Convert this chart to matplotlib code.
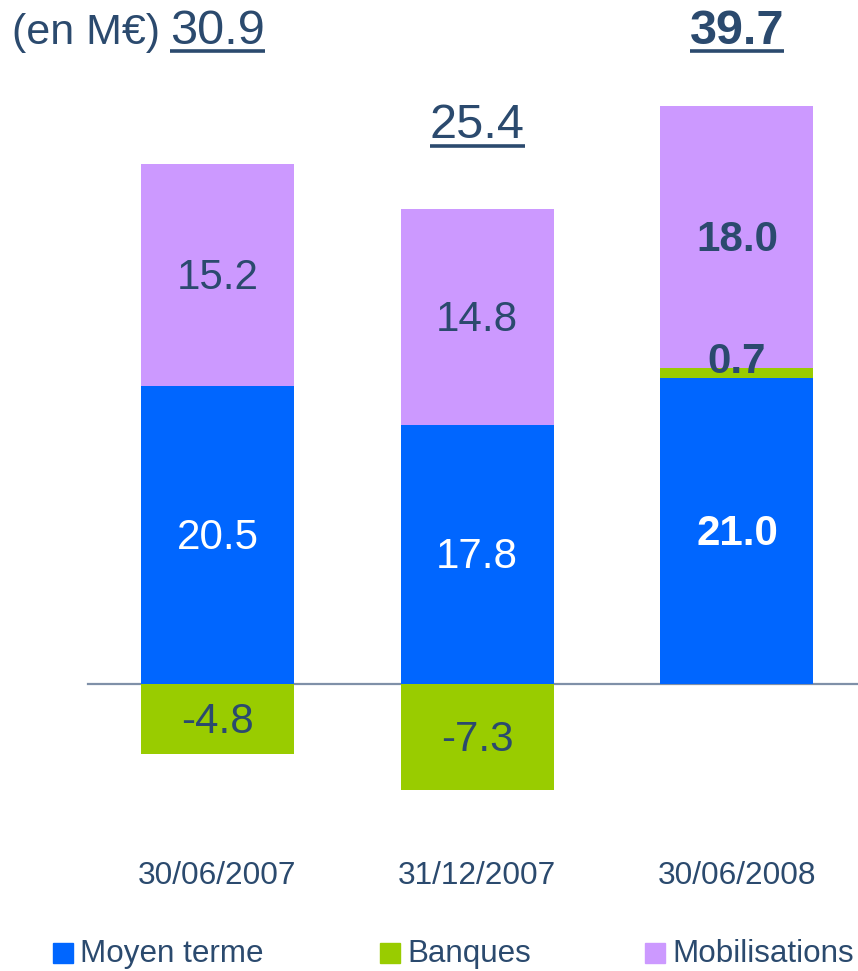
import matplotlib
matplotlib.use("Agg")
import matplotlib.pyplot as plt
from matplotlib.lines import Line2D
import numpy as np

categories = ["30/06/2007", "31/12/2007", "30/06/2008"]
moyen_terme = [20.5, 17.8, 21.0]
banques = [-4.8, -7.3, 0.7]
mobilisations = [15.2, 14.8, 18.0]
totals = ["30.9", "25.4", "39.7"]
series_names = ["Moyen terme", "Banques", "Mobilisations"]
bold_flags = [False, False, True]

C_BLUE = "#0066FF"
C_GREEN = "#99CC00"
C_PURPLE = "#CC99FF"
C_TEXT = "#2B4A6E"
FONT = ["Liberation Sans", "DejaVu Sans"]

W, H = 858, 971
fig = plt.figure(figsize=(W / 100, H / 100), dpi=100)
ax = fig.add_axes([0, 0, 1, 1])
ax.set_xlim(-0.837, 2.466)
ax.set_ylim(-19.71, 46.98)
ax.axis("off")

x = np.arange(len(categories))
width = 0.589
mt = np.array(moyen_terme)
bq = np.array(banques)
mb = np.array(mobilisations)

ax.axhline(0, xmin=88 / W, xmax=1, color="#7F90A8", lw=1.6, zorder=1)

ax.bar(x, mt, width, color=C_BLUE, zorder=2)
bq_bottom = np.where(bq > 0, mt, 0)
ax.bar(x, bq, width, bottom=bq_bottom, color=C_GREEN, zorder=2)
mb_bottom = mt + np.where(bq > 0, bq, 0)
ax.bar(x, mb, width, bottom=mb_bottom, color=C_PURPLE, zorder=2)

LS = 30.3
dy = -0.2
for i in range(len(x)):
    fw = "bold" if bold_flags[i] else "normal"
    ax.text(x[i], mt[i] / 2 + dy, f"{mt[i]:.1f}", ha="center", va="center",
            color="white", fontsize=LS, fontweight=fw, family=FONT, zorder=3)
    if bq[i] < 0:
        yb = bq[i] / 2 + dy
    else:
        yb = mt[i] + bq[i] + 0.45
    ax.text(x[i], yb, f"{bq[i]:.1f}", ha="center", va="center",
            color=C_TEXT, fontsize=LS, fontweight=fw, family=FONT, zorder=3)
    ax.text(x[i], mb_bottom[i] + mb[i] / 2 + dy, f"{mb[i]:.1f}", ha="center", va="center",
            color=C_TEXT, fontsize=LS, fontweight=fw, family=FONT, zorder=3)
    ax.text(x[i], -13.2, categories[i], ha="center", va="center",
            color=C_TEXT, fontsize=22.8, family=FONT)

# totals with underline
total_y = [43.96, 37.5, 43.96]
fig.text(12 / W, 1 - 44 / H, "(en M€)", ha="left", va="baseline",
         color=C_TEXT, fontsize=31, family=FONT)
tobjs = []
for i in range(len(x)):
    fw = "bold" if bold_flags[i] else "normal"
    t = ax.text(x[i], total_y[i], totals[i], ha="center", va="baseline",
                color=C_TEXT, fontsize=35, fontweight=fw, family=FONT)
    tobjs.append(t)

fig.canvas.draw()
r = fig.canvas.get_renderer()
for i, t in enumerate(tobjs):
    bb = t.get_window_extent(r)
    base_px = ax.transData.transform((0, total_y[i]))[1]
    yline = (base_px - 7.5) / H
    fig.add_artist(Line2D([bb.x0 / W, bb.x1 / W], [yline, yline],
                          color=C_TEXT, lw=2.6, solid_capstyle="butt"))

# legend
leg_colors = [C_BLUE, C_GREEN, C_PURPLE]
leg_sq_x = [53, 380, 645]
for name, c, sx in zip(series_names, leg_colors, leg_sq_x):
    fig.patches.append(plt.Rectangle((sx / W, 1 - 963 / H), 20 / W, 20 / H,
                                     transform=fig.transFigure, color=c, figure=fig))
    fig.text((sx + 27) / W, 1 - 954 / H, name, ha="left", va="center",
             color=C_TEXT, fontsize=22.6, family=FONT)

fig.savefig("out.png", dpi=100)
